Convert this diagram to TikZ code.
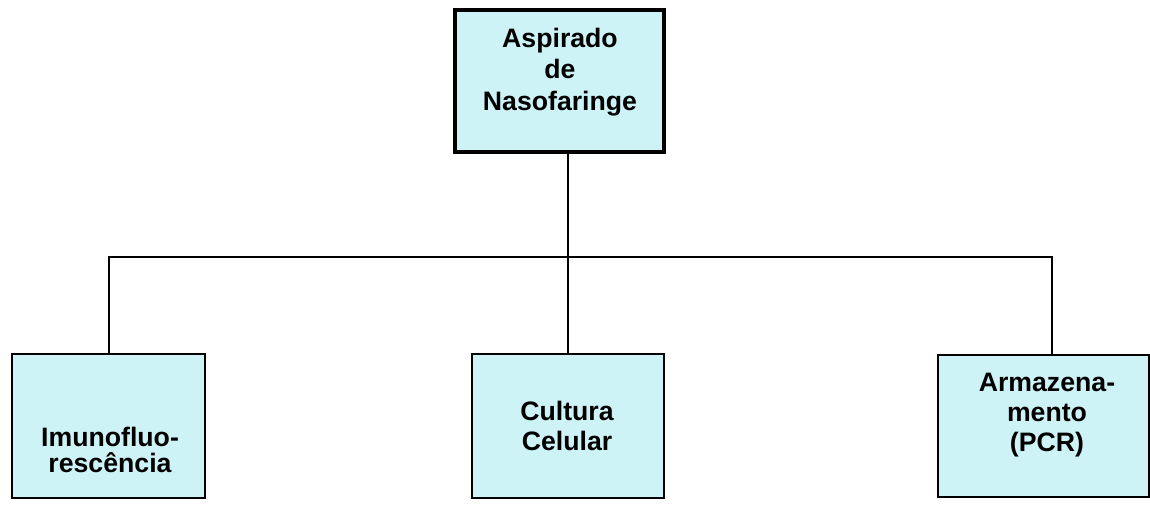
\documentclass[tikz,border=0pt]{standalone}
\usepackage{fontspec}
\setmainfont{Liberation Sans}
\definecolor{boxfill}{RGB}{205,243,247}
\begin{document}
\begin{tikzpicture}[x=0.75pt,y=-0.75pt,
  box/.style={draw=black,fill=boxfill,rectangle,inner sep=0pt,line join=miter},
  topbox/.style={box,line width=3pt},
  lowbox/.style={box,line width=2pt},
  lbl/.style={anchor=north,inner sep=0pt,align=center,font=\fontsize{20}{23.5}\selectfont\bfseries},
  wire/.style={draw=black,line width=1.6pt}]
\useasboundingbox (0,0) rectangle (1150,505);
% boxes
\node[topbox,minimum width=209*0.75pt,minimum height=142*0.75pt] (top) at (559.5,81) {};
\node[lowbox,minimum width=193*0.75pt,minimum height=144*0.75pt] (left) at (108.5,426) {};
\node[lowbox,minimum width=192*0.75pt,minimum height=144*0.75pt] (mid) at (568,426) {};
\node[lowbox,minimum width=211*0.75pt,minimum height=142*0.75pt] (right) at (1043.5,426) {};
% texts
\node[lbl] (ttop) at (560,28) {Aspirado\\de\\Nasofaringe};
\node[lbl,font=\fontsize{20}{19.5}\selectfont\bfseries] (tleft) at (110,427) {Imunofluo-\\rescência};
\node[lbl,font=\fontsize{20}{22.5}\selectfont\bfseries] (tmid) at (567,401) {Cultura\\Celular};
\node[lbl,font=\fontsize{20}{22.5}\selectfont\bfseries] (tright) at (1047,373) {Armazena-\\mento\\(PCR)};
% connectors
\coordinate (lj) at (109,257);
\coordinate (mj) at (568,257);
\coordinate (rj) at (1052,257);
\draw[wire] (top.south -| mj) -- (mj) -- (mj |- mid.north);
\draw[wire,line join=miter] (lj |- left.north) -- (lj) -- (rj) -- (rj |- right.north);
\end{tikzpicture}
\end{document}
